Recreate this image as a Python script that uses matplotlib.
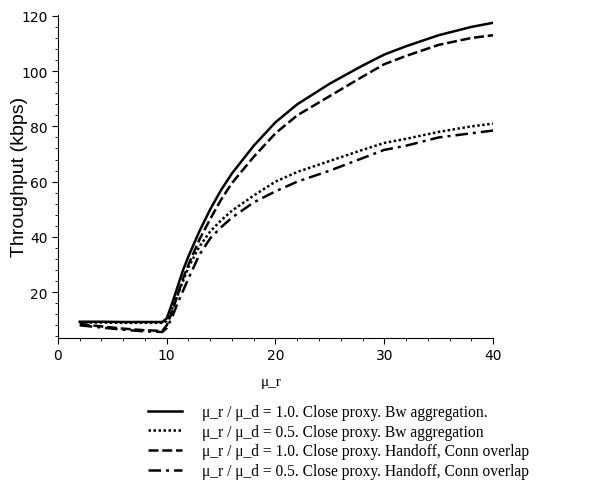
import matplotlib
matplotlib.use("Agg")
import matplotlib.pyplot as plt
from matplotlib.ticker import MultipleLocator

# sample points along mu_r
mu_r = [2, 4, 6, 8, 9.6, 10, 10.5, 11, 11.5, 12, 13, 14, 15, 16, 18, 20, 22, 25, 28, 30, 32, 35, 38, 40]

# throughput (kbps) for each configuration
bw_agg_10 = [9.3, 9.3, 9.2, 9.2, 9.2, 10.5, 16, 22, 28, 33, 42, 50, 57, 63, 73, 81.5, 88, 95.5, 102, 106, 109, 113, 116, 117.5]
bw_agg_05 = [9.0, 9.0, 8.9, 8.9, 8.9, 9.5, 14, 19, 24, 29, 36.5, 42, 46, 49.5, 55, 60, 63.5, 67.5, 71.5, 74, 75.5, 78, 80, 81]
handoff_10 = [8.5, 7.6, 6.8, 6.2, 6.0, 8, 13, 19, 25, 30, 39, 46.5, 53.5, 59.5, 69, 77.5, 84, 91, 98, 102.5, 105.5, 109.5, 112, 113]
handoff_05 = [8.0, 7.2, 6.4, 5.8, 5.6, 7, 11, 16, 20.5, 25, 33.5, 39.5, 43.5, 47, 52.5, 56.5, 60, 64, 68.5, 71.5, 73, 76, 77.5, 78.5]

labels = [
    "\u03bc_r / \u03bc_d = 1.0. Close proxy. Bw aggregation.",
    "\u03bc_r / \u03bc_d = 0.5. Close proxy. Bw aggregation",
    "\u03bc_r / \u03bc_d = 1.0. Close proxy. Handoff, Conn overlap",
    "\u03bc_r / \u03bc_d = 0.5. Close proxy. Handoff, Conn overlap",
]

fig = plt.figure(figsize=(5.94, 4.89), dpi=100)
ax = fig.add_axes([0.0976, 0.3067, 0.7324, 0.6616])

l1, = ax.plot(mu_r, bw_agg_10, color="black", lw=1.8, ls="-")
l2, = ax.plot(mu_r, bw_agg_05, color="black", lw=1.8, ls=(0, (1, 1)))
l3, = ax.plot(mu_r, handoff_10, color="black", lw=1.8, ls=(0, (4, 1.5)))
l4, = ax.plot(mu_r, handoff_05, color="black", lw=1.8, ls=(0, (5, 2, 1.2, 2)))

ax.set_xlim(0, 40)
ax.set_ylim(3.4, 120.5)
ax.spines["top"].set_visible(False)
ax.spines["right"].set_visible(False)
ax.xaxis.set_major_locator(MultipleLocator(10))
ax.xaxis.set_minor_locator(MultipleLocator(2))
ax.yaxis.set_minor_locator(MultipleLocator(4))
ax.set_yticks([20, 40, 60, 80, 100, 120])
ax.tick_params(which="major", length=4, direction="out", labelsize=10)
ax.tick_params(which="minor", length=2, direction="out")

ax.set_xlabel("\u03bc_r", fontsize=11, family="Liberation Serif")
ax.xaxis.set_label_coords(0.49, -0.115)
ax.set_ylabel("Throughput (kbps)", fontsize=14, family="Liberation Sans")
ax.yaxis.set_label_coords(-0.07, 0.5)

fig.legend([l1, l2, l3, l4], labels, loc="upper left",
           bbox_to_anchor=(148 / 594, 1 - 405 / 489), frameon=False,
           prop={"family": "Liberation Serif", "size": 11.2},
           handlelength=2.2, handletextpad=1.3, labelspacing=0.24,
           borderaxespad=0, borderpad=0)

fig.savefig("out.png", dpi=100)
